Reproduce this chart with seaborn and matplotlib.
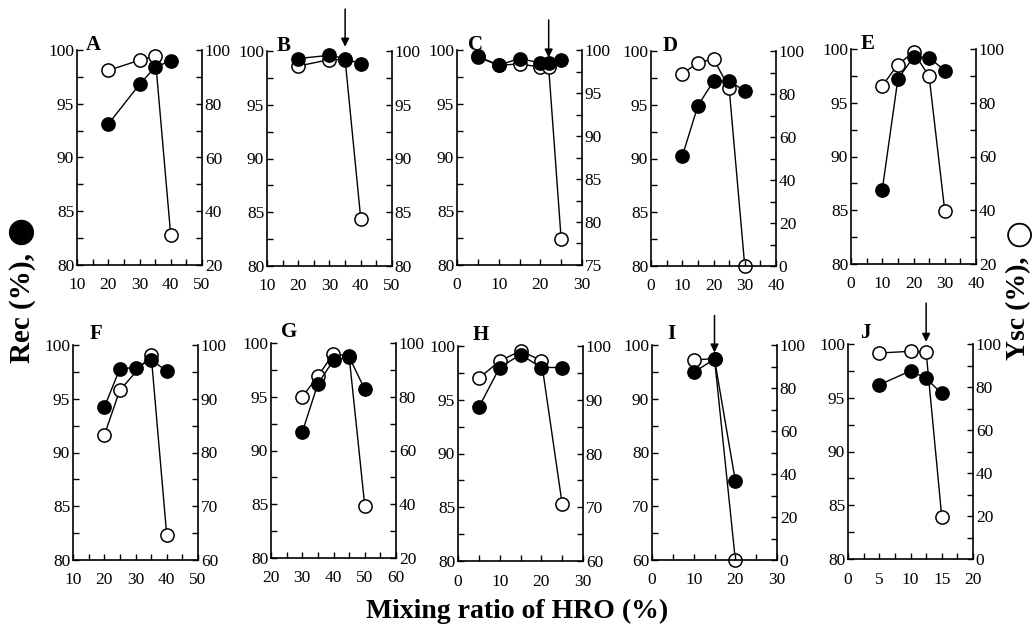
import matplotlib
matplotlib.use("Agg")
import matplotlib.pyplot as plt
from matplotlib.ticker import MultipleLocator
import seaborn as sns

sns.set_style("ticks")
plt.rcParams["font.family"] = ["Liberation Serif", "DejaVu Sans"]
plt.rcParams["text.color"] = "black"
plt.rcParams["axes.labelcolor"] = "black"
plt.rcParams["xtick.color"] = "black"
plt.rcParams["ytick.color"] = "black"

# ---------------- data ----------------
panel_names = ["A", "B", "C", "D", "E", "F", "G", "H", "I", "J"]

A_x = [20, 30, 35, 40]
A_rec = [93.1, 96.8, 98.4, 99.0]
A_ysc_x = [20, 30, 35, 40]
A_ysc = [92.4, 96.2, 97.8, 31.0]

B_x = [20, 30, 35, 40]
B_rec = [99.3, 99.6, 99.3, 98.8]
B_ysc_x = [20, 30, 35, 40]
B_ysc = [98.6, 99.2, 99.2, 84.4]

C_x = [5, 10, 15, 20, 22, 25]
C_rec = [99.4, 98.6, 99.2, 98.8, 98.8, 99.1]
C_ysc_x = [5, 10, 15, 20, 22, 25]
C_ysc = [99.2, 98.2, 98.4, 98.0, 98.0, 78.0]

D_x = [10, 15, 20, 25, 30]
D_rec = [90.2, 94.9, 97.2, 97.2, 96.3]
D_ysc_x = [10, 15, 20, 25, 30]
D_ysc = [89.5, 94.4, 96.4, 82.8, 0.0]

E_x = [10, 15, 20, 25, 30]
E_rec = [86.9, 97.2, 99.25, 99.2, 98.0]
E_ysc_x = [10, 15, 20, 25, 30]
E_ysc = [86.3, 94.2, 98.8, 89.8, 39.8]

F_x = [20, 25, 30, 35, 40]
F_rec = [94.2, 97.8, 97.9, 98.6, 97.6]
F_ysc_x = [20, 25, 35, 40]
F_ysc = [83.2, 91.6, 98.2, 64.6]

G_x = [30, 35, 40, 45, 50]
G_rec = [91.7, 96.2, 98.4, 98.7, 95.7]
G_ysc_x = [30, 35, 40, 45, 50]
G_ysc = [79.9, 87.7, 96.0, 95.1, 39.5]

H_x = [5, 10, 15, 20, 25]
H_rec = [94.3, 98.0, 99.2, 98.0, 98.0]
H_ysc_x = [5, 10, 15, 20, 25]
H_ysc = [94.0, 97.2, 99.1, 97.3, 70.6]

I_x = [10, 15, 20]
I_rec = [94.9, 97.4, 74.7]
I_ysc_x = [10, 15, 20]
I_ysc = [93.1, 93.6, 0.0]

J_x = [5, 10, 12.5, 15]
J_rec = [96.2, 97.5, 96.8, 95.4]
J_ysc_x = [5, 10, 12.5, 15]
J_ysc = [95.8, 96.6, 96.3, 19.7]

# axis ranges: (min, max, major step, minor step)
x_ranges = [(10, 50, 10, 5), (10, 50, 10, 5), (0, 30, 10, 5), (0, 40, 10, 5), (0, 40, 10, 5),
            (10, 50, 10, 5), (20, 60, 10, 5), (0, 30, 10, 5), (0, 30, 10, 5), (0, 20, 5, 2.5)]
rec_ranges = [(80, 100, 5, 2.5)] * 8 + [(60, 100, 10, 5), (80, 100, 5, 2.5)]
ysc_ranges = [(20, 100, 20, 10), (80, 100, 5, 2.5), (75, 100, 5, 2.5), (0, 100, 20, 10),
              (20, 100, 20, 10), (60, 100, 10, 5), (20, 100, 20, 10), (60, 100, 10, 5),
              (0, 100, 20, 10), (0, 100, 20, 10)]

# arrows: panel -> (x, tail value, tip value) on the Rec axis
arrows = {"B": (35, 103.9, 100.4), "C": (22, 102.8, 99.3),
          "I": (15, 105.5, 98.6), "J": (12.5, 103.8, 100.2)}

rec_x = [A_x, B_x, C_x, D_x, E_x, F_x, G_x, H_x, I_x, J_x]
rec_y = [A_rec, B_rec, C_rec, D_rec, E_rec, F_rec, G_rec, H_rec, I_rec, J_rec]
ysc_x = [A_ysc_x, B_ysc_x, C_ysc_x, D_ysc_x, E_ysc_x, F_ysc_x, G_ysc_x, H_ysc_x, I_ysc_x, J_ysc_x]
ysc_y = [A_ysc, B_ysc, C_ysc, D_ysc, E_ysc, F_ysc, G_ysc, H_ysc, I_ysc, J_ysc]

# ---------------- layout (pixels) ----------------
W, H = 1035, 633
lefts = [77, 267, 457, 651, 851, 73, 271, 458, 652, 848]
tops = [50, 51, 50, 51, 49, 345, 343, 346, 345, 344]
pw, ph = 125, 215
label_dx = [9, 10, 11, 12, 10, 17, 10, 15, 15, 12]

fig = plt.figure(figsize=(W / 100, H / 100), dpi=100)
fs = 12.5

for i, name in enumerate(panel_names):
    rect = [lefts[i] / W, 1 - (tops[i] + ph) / H, pw / W, ph / H]
    ax = fig.add_axes(rect)
    ax2 = ax.twinx()
    ax.set_zorder(ax2.get_zorder() + 1)
    ax.patch.set_visible(False)

    # open circles: Ysc on right axis
    sns.lineplot(x=ysc_x[i], y=ysc_y[i], ax=ax2, color="black", lw=1.0,
                 marker="o", markersize=9.5, markerfacecolor="white",
                 markeredgecolor="black", markeredgewidth=1.1, clip_on=False, sort=False)
    # filled circles: Rec on left axis
    sns.lineplot(x=rec_x[i], y=rec_y[i], ax=ax, color="black", lw=1.0,
                 marker="o", markersize=9.5, markerfacecolor="black",
                 markeredgecolor="black", markeredgewidth=1.1, clip_on=False, sort=False)

    x0, x1, xm, xn = x_ranges[i]
    r0, r1, rm, rn = rec_ranges[i]
    y0, y1, ym, yn = ysc_ranges[i]
    ax.set_xlim(x0, x1)
    ax.set_ylim(r0, r1)
    ax2.set_ylim(y0, y1)
    ax.xaxis.set_major_locator(MultipleLocator(xm))
    ax.xaxis.set_minor_locator(MultipleLocator(xn))
    ax.yaxis.set_major_locator(MultipleLocator(rm))
    ax.yaxis.set_minor_locator(MultipleLocator(rn))
    ax2.yaxis.set_major_locator(MultipleLocator(ym))
    ax2.yaxis.set_minor_locator(MultipleLocator(yn))
    ax.set_xlabel("")
    ax.set_ylabel("")
    ax2.set_ylabel("")

    for a in (ax, ax2):
        a.spines["top"].set_visible(False)
        for s in a.spines.values():
            s.set_linewidth(1.2)
            s.set_color("black")
    ax.spines["right"].set_visible(False)
    ax2.spines["left"].set_visible(False)
    ax2.spines["bottom"].set_visible(False)

    ax.tick_params(axis="x", which="both", direction="in", length=4, width=1.0,
                   labelsize=fs, pad=9, colors="black", top=False)
    ax.tick_params(axis="y", which="both", direction="in", length=4, width=1.0,
                   labelsize=fs, pad=2, colors="black", right=False)
    ax2.tick_params(axis="y", which="both", direction="in", length=4, width=1.0,
                    labelsize=fs, pad=2, colors="black", left=False)

    top_row = i < 5
    ax.text(label_dx[i] / pw, 1.0 if top_row else 1.0 + 6 / ph, name,
            transform=ax.transAxes, fontsize=15, fontweight="bold",
            ha="left", va="baseline", color="black")

    if name in arrows:
        ax_x, tail, tip = arrows[name]
        ax.annotate("", xy=(ax_x, tip), xytext=(ax_x, tail),
                    arrowprops=dict(arrowstyle="-|>", color="black", lw=1.1,
                                    mutation_scale=12, shrinkA=0, shrinkB=0),
                    annotation_clip=False, zorder=10)

# axis titles
fig.text(22 / W, 1 - 308 / H, "Rec (%),", rotation=90, ha="center", va="center",
         fontsize=21, fontweight="bold")
fig.text(20 / W, 1 - 230 / H, "\u25CF", rotation=90, ha="center", va="center",
         fontsize=24, family="DejaVu Sans")
fig.text(1019 / W, 1 - 308 / H, "Ysc (%),", rotation=90, ha="center", va="center",
         fontsize=20, fontweight="bold")
fig.text(1019 / W, 1 - 233 / H, "\u25CB", rotation=90, ha="center", va="center",
         fontsize=23, family="DejaVu Sans")
fig.text(517 / W, 1 - 611 / H, "Mixing ratio of HRO (%)", ha="center", va="center",
         fontsize=20, fontweight="bold")

fig.savefig("out.png", dpi=100, facecolor="white")
